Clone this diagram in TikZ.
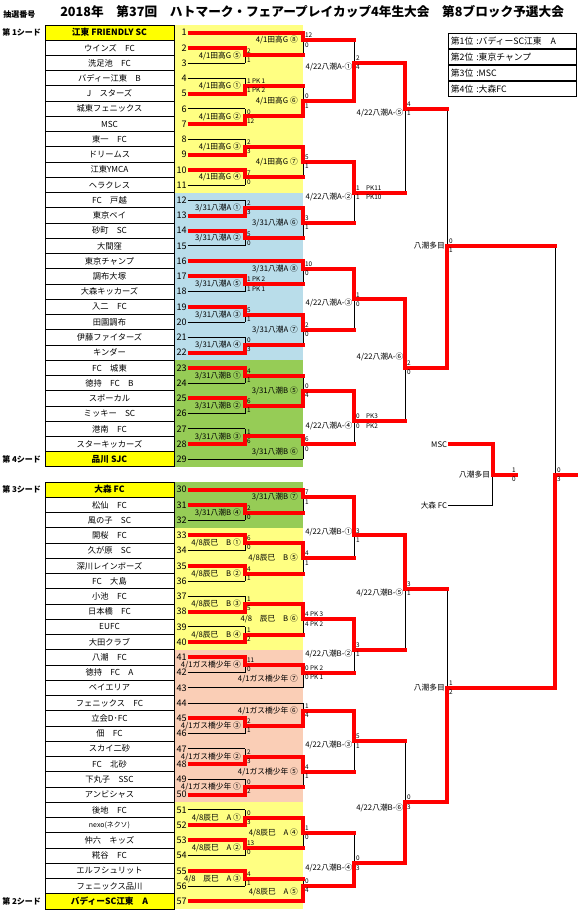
\documentclass[tikz,border=0pt]{standalone}
\usepackage{fontspec}
\setmainfont{Noto Sans CJK JP}
\usetikzlibrary{positioning}
\pgfdeclarelayer{bg}\pgfdeclarelayer{blk}\pgfsetlayers{bg,blk,main}
\definecolor{seedyel}{RGB}{255,255,0}
\definecolor{bandyel}{RGB}{255,255,130}
\definecolor{bandblu}{RGB}{185,221,234}
\definecolor{bandgrn}{RGB}{150,204,86}
\definecolor{bandpch}{RGB}{250,206,182}
% bracket columns (px) and where each round hands on to
\def\cola{245}\def\colb{303}\def\colc{354}\def\cold{405}\def\cole{447}\def\colf{555}
\def\nxa{\colb}\def\nxb{\colc}\def\nxc{\cold}\def\nxd{\cole}\def\nxe{\colf}
\def\gpa{4}\def\gpb{5}\def\gpc{1.5}\def\gpd{1.5}\def\gpe{2}
% one game: round, top, bottom, out, winner (t/b), label, label shift, score top, score bottom
\newcommand\bout[9]{%
  \edef\xin{\csname col#1\endcsname}\edef\xout{\csname nx#1\endcsname}%
  \edef\mgap{\csname gp#1\endcsname}%
  \if t#5%
    \begin{pgfonlayer}{blk}\draw[lose] (\xin,#4) -- (\xin,#3);\end{pgfonlayer}
    \draw[win] (\xin,#2) -- (\xin,#4) -- (\xout,#4);
  \else
    \begin{pgfonlayer}{blk}\draw[lose] (\xin,#2) -- (\xin,#4);\end{pgfonlayer}
    \draw[win] (\xin,#3) -- (\xin,#4) -- (\xout,#4);
  \fi
  \node[scup] (s#1#4t) at (\xin,#4) {#8};
  \node[scdn] (s#1#4b) at (\xin,#4) {#9};
  \node[mlbl, anchor=east] (l#1#4) at ({\xin-\mgap},{#4+(#7)}) {#6};
}
\begin{document}
\begin{tikzpicture}[x=0.75pt, y=-0.75pt,
    team/.style={draw, line width=0.75pt, fill=white, minimum width=96.75pt,
                 minimum height=11.43pt, inner sep=0pt, font=\fontsize{6.2}{7}\selectfont},
    seed/.style={team, fill=seedyel, font=\fontsize{6.5}{7}\selectfont\bfseries},
    num/.style={inner sep=0.5pt, font=\fontsize{6.8}{8}\selectfont},
    win/.style={draw=red, line width=3pt, line cap=rect},
    lose/.style={draw=black, line width=0.75pt},
    score/.style={inner sep=0.4pt, font=\fontsize{4.8}{5}\selectfont},
    scup/.style={score, anchor=south west, xshift=1pt, yshift=1.1pt},
    scdn/.style={score, anchor=north west, xshift=1pt, yshift=-1.1pt},
    mlbl/.style={inner sep=0pt, font=\fontsize{5.8}{6}\selectfont},
    side/.style={inner sep=0.5pt, font=\fontsize{5.8}{6}\selectfont},
    seedlbl/.style={inner sep=0pt, font=\fontsize{6}{7}\selectfont\bfseries},
    rank/.style={draw, line width=0.75pt, text width=92.2pt, inner xsep=2pt, inner ysep=0pt,
                 minimum height=11.36pt, align=left, font=\fontsize{6.6}{7}\selectfont}]
  \useasboundingbox (0,0) rectangle (583,915);
  \node[seedlbl, anchor=west] (lotno) at (3,14) {抽選番号};
  \node[anchor=west, inner sep=0pt, font=\fontsize{9.5}{11}\selectfont\bfseries] (title) at (60,12)
    {2018年　第37回　ハトマーク・フェアープレイカップ4年生大会　第8ブロック予選大会};
  \node[seedlbl, anchor=west] (seedA) at (2,32.6) {第 1シード};
  \node[seedlbl, anchor=west] (seedD) at (2,459.3) {第 4シード};
  \node[seedlbl, anchor=west] (seedC) at (2,489.6) {第 3シード};
  \node[seedlbl, anchor=west] (seedB) at (2,901.4) {第 2シード};

  % upper half, y in half rows
  \begin{scope}[shift={(0,25)}, y=-5.715pt]
    \begin{pgfonlayer}{bg}
      \fill[bandyel] (174,0) rectangle (303,22);
      \fill[bandblu] (174,22) rectangle (303,44);
      \fill[bandgrn] (174,44) rectangle (303,58);
    \end{pgfonlayer}
    \foreach \k/\nm/\st/\cl/\xe in {1/{江東 FRIENDLY SC}/seed/win/303, 2/{ウインズ　FC}/team/win/245,
        3/{洗足池　FC}/team/lose/245, 4/{バディー江東　B}/team/lose/245, 5/{J　スターズ}/team/win/245,
        6/城東フェニックス/team/lose/245, 7/MSC/team/win/245, 8/{東一　FC}/team/lose/245,
        9/ドリームス/team/win/245, 10/江東YMCA/team/win/245, 11/ヘラクレス/team/lose/245,
        12/{FC　戸越}/team/lose/245, 13/東京ベイ/team/win/245, 14/{砂町　SC}/team/win/245,
        15/大間窪/team/lose/245, 16/東京チャンプ/team/win/303, 17/調布大塚/team/win/245,
        18/大森キッカーズ/team/lose/245, 19/{入二　FC}/team/win/245, 20/田園調布/team/lose/245,
        21/伊藤ファイターズ/team/lose/245, 22/キンダー/team/win/245, 23/{FC　城東}/team/win/245,
        24/{徳持　FC　B}/team/lose/245, 25/スポーカル/team/win/245, 26/{ミッキー　SC}/team/lose/245,
        27/{港南　FC}/team/lose/245, 28/スターキッカーズ/team/win/245, 29/{品川 SJC}/seed/lose/303}{
      \pgfmathtruncatemacro\rowu{2*\k-1}
      \node[\st] (team\k) at (109.5,\rowu) {\nm};
      \node[num, anchor=east] (num\k) at (187.5,\rowu) {\k};
      \begin{pgfonlayer}{blk}\draw[\cl, line cap=butt] (num\k.east) -- (\xe,\rowu);\end{pgfonlayer}
    }
    \bout{a}{3}{5}{4}{t}{4/1田高G ⑤}{0}{2}{1}
    \bout{a}{7}{9}{8}{b}{4/1田高G ①}{0}{1 PK 1}{1 PK 2}
    \bout{a}{11}{13}{12}{b}{4/1田高G ②}{0}{0}{12}
    \bout{a}{15}{17}{16}{b}{4/1田高G ③}{0}{2}{3}
    \bout{a}{19}{21}{20}{t}{4/1田高G ④}{0}{7}{0}
    \bout{a}{23}{25}{24}{b}{3/31八潮A ①}{0}{2}{3}
    \bout{a}{27}{29}{28}{t}{3/31八潮A ②}{0}{5}{0}
    \bout{a}{33}{35}{34}{t}{3/31八潮A ⑤}{0}{1 PK 2}{1 PK 1}
    \bout{a}{37}{39}{38}{t}{3/31八潮A ③}{0}{5}{1}
    \bout{a}{41}{43}{42}{b}{3/31八潮A ④}{0}{0}{3}
    \bout{a}{45}{47}{46}{t}{3/31八潮B ①}{0}{4}{1}
    \bout{a}{49}{51}{50}{t}{3/31八潮B ②}{0}{6}{1}
    \bout{a}{53}{55}{54}{b}{3/31八潮B ③}{0}{1}{6}
    \bout{b}{1}{4}{2}{t}{4/1田高G ⑧}{0}{12}{0}
    \bout{b}{8}{12}{10}{b}{4/1田高G ⑥}{0}{0}{1}
    \bout{b}{16}{20}{18}{t}{4/1田高G ⑦}{0}{5}{1}
    \bout{b}{24}{28}{26}{t}{3/31八潮A ⑥}{0}{3}{1}
    \bout{b}{31}{34}{32}{t}{3/31八潮A ⑧}{0}{10}{0}
    \bout{b}{38}{42}{40}{t}{3/31八潮A ⑦}{0}{2}{0}
    \bout{b}{46}{50}{48}{b}{3/31八潮B ⑤}{0}{0}{4}
    \bout{b}{54}{57}{55}{t}{3/31八潮B ⑥}{1}{6}{0}
    \bout{c}{2}{10}{5}{b}{4/22八潮A-①}{0.5}{2}{4}
    \bout{c}{18}{26}{22}{t}{4/22八潮A-②}{0.5}{1　PK11}{1　PK10}
    \bout{c}{32}{40}{36}{t}{4/22八潮A-③}{0.5}{1}{0}
    \bout{c}{48}{55}{52}{t}{4/22八潮A-④}{0.6}{0　PK3}{0　PK2}
    \bout{d}{5}{22}{11}{t}{4/22八潮A-⑤}{0.6}{4}{1}
    \bout{d}{36}{52}{45}{t}{4/22八潮A-⑥}{-1.4}{2}{0}
    \bout{e}{11}{45}{29}{b}{八潮多目}{0}{0}{1}
  \end{scope}

  % lower half
  \begin{scope}[shift={(0,482)}, y=-5.71875pt]
    \begin{pgfonlayer}{bg}
      \fill[bandgrn] (174,0) rectangle (303,6);
      \fill[bandyel] (174,6) rectangle (303,22);
      \fill[bandpch] (174,22) rectangle (303,42);
      \fill[bandyel] (174,42) rectangle (303,56);
    \end{pgfonlayer}
    \foreach \k/\nm/\st/\cl/\xe in {30/{大森 FC}/seed/win/303, 31/{松仙　FC}/team/win/245,
        32/{風の子　SC}/team/lose/245, 33/{開桜　FC}/team/win/245, 34/{久が原　SC}/team/lose/245,
        35/深川レインボーズ/team/win/245, 36/{FC　大島}/team/lose/245, 37/{小池　FC}/team/lose/245,
        38/{日本橋　FC}/team/win/245, 39/EUFC/team/lose/245, 40/大田クラブ/team/win/245,
        41/{八潮　FC}/team/win/245, 42/{徳持　FC　A}/team/lose/245, 43/ベイエリア/team/lose/303,
        44/{フェニックス　FC}/team/lose/303, 45/立会D･FC/team/win/245, 46/{佃　FC}/team/lose/245,
        47/スカイ二砂/team/lose/245, 48/{FC　北砂}/team/win/245, 49/{下丸子　SSC}/team/lose/245,
        50/アンビシャス/team/win/245, 51/{後地　FC}/team/lose/245,
        52/{\fontsize{5.2}{6}\selectfont nexo(ネクソ)}/team/win/245, 53/{仲六　キッズ}/team/win/245,
        54/{糀谷　FC}/team/lose/245, 55/エルフシュリット/team/win/245, 56/フェニックス品川/team/lose/245,
        57/{バディーSC江東　A}/seed/win/303}{
      \pgfmathtruncatemacro\rowu{2*\k-59}
      \node[\st] (team\k) at (109.5,\rowu) {\nm};
      \node[num, anchor=east] (num\k) at (187.5,\rowu) {\k};
      \begin{pgfonlayer}{blk}\draw[\cl, line cap=butt] (num\k.east) -- (\xe,\rowu);\end{pgfonlayer}
    }
    \bout{a}{3}{5}{4}{t}{3/31八潮B ④}{0}{2}{0}
    \bout{a}{7}{9}{8}{t}{4/8辰巳　B ①}{0}{6}{0}
    \bout{a}{11}{13}{12}{t}{4/8辰巳　B ②}{0}{4}{1}
    \bout{a}{15}{17}{16}{b}{4/8辰巳　B ③}{0}{1}{5}
    \bout{a}{19}{21}{20}{b}{4/8辰巳　B ④}{0}{1}{2}
    \bout{a}{23}{25}{24}{t}{4/1ガス橋少年 ④}{0}{11}{0}
    \bout{a}{31}{33}{32}{t}{4/1ガス橋少年 ③}{0}{2}{1}
    \bout{a}{35}{37}{36}{b}{4/1ガス橋少年 ②}{0}{2}{3}
    \bout{a}{39}{41}{40}{b}{4/1ガス橋少年 ①}{0}{0}{2}
    \bout{a}{43}{45}{44}{b}{4/8辰巳　A ①}{0}{0}{3}
    \bout{a}{47}{49}{48}{t}{4/8辰巳　A ②}{0}{13}{0}
    \bout{a}{51}{53}{52}{t}{4/8　辰巳　A ③}{0}{4}{1}
    \bout{b}{1}{4}{2}{t}{3/31八潮B ⑦}{0}{7}{1}
    \bout{b}{8}{12}{10}{t}{4/8辰巳　B ⑤}{0}{4}{1}
    \bout{b}{16}{20}{18}{t}{4/8　辰巳　B ⑥}{0}{4 PK 3}{4 PK 2}
    \bout{b}{24}{27}{25}{t}{4/1ガス橋少年 ⑦}{0.8}{0 PK 2}{0 PK 1}
    \bout{b}{29}{32}{30}{b}{4/1ガス橋少年 ⑥}{0}{1}{4}
    \bout{b}{36}{40}{38}{t}{4/1ガス橋少年 ⑤}{0}{4}{1}
    \bout{b}{44}{48}{46}{t}{4/8辰巳　A ④}{0}{1}{0}
    \bout{b}{52}{55}{53}{b}{4/8辰巳　A ⑤}{0.7}{0}{4}
    \bout{c}{2}{10}{7}{t}{4/22八潮B-①}{-0.4}{3}{1}
    \bout{c}{18}{25}{22}{t}{4/22八潮B-②}{0.5}{3}{1}
    \bout{c}{30}{38}{34}{t}{4/22八潮B-③}{0.5}{5}{1}
    \bout{c}{46}{53}{50}{b}{4/22八潮B-④}{0.6}{0}{3}
    \bout{d}{7}{22}{14}{t}{4/22八潮B-⑤}{0.5}{3}{1}
    \bout{d}{34}{50}{42}{b}{4/22八潮B-⑥}{0.7}{0}{3}
    \bout{e}{14}{42}{27}{b}{八潮多目}{0}{1}{2}
  \end{scope}

  % final
  \coordinate (fin) at (555,475);
  \begin{pgfonlayer}{blk}\draw[lose] (555,246) -- (fin);\end{pgfonlayer}
  \draw[win] (555,687.9) -- (fin) -- (576,475);
  \node[scup] (fin1) at (fin) {0};
  \node[scdn] (fin2) at (fin) {3};

  % third place
  \node[side, anchor=east] (msc) at (448,444.3) {MSC};
  \node[side, anchor=east] (omr) at (448,505.7) {大森 FC};
  \coordinate (p3) at (492.7,475);
  \begin{pgfonlayer}{blk}\draw[lose] (omr.east) -| (p3);\end{pgfonlayer}
  \draw[win, line cap=butt] (msc.east) -| (p3) -- (517.5,475);
  \node[side, anchor=east] (p3l) at (491,475) {八潮多目};
  \node[score, anchor=south, yshift=1.1pt] (p3a) at (514,475) {1};
  \node[score, anchor=north, yshift=-1.1pt] (p3b) at (514,475) {0};

  % standings
  \node[rank, anchor=north west] (rank1) at (447.7,32.7) {第1位 :バディーSC江東　A};
  \node[rank, below=0pt of rank1] (rank2) {第2位 :東京チャンプ};
  \node[rank, below=0pt of rank2] (rank3) {第3位 :MSC};
  \node[rank, below=0pt of rank3] (rank4) {第4位 :大森FC};
\end{tikzpicture}
\end{document}
